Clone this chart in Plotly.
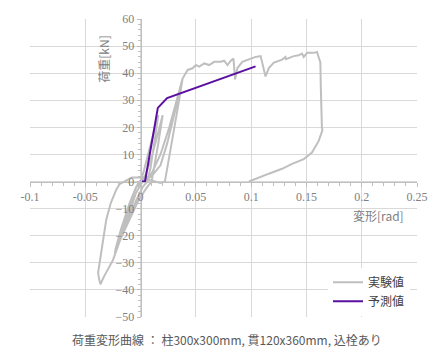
import plotly.graph_objects as go

# Experimental hysteresis (deformation [rad], load [kN])
exp_x = [0, 0.003, 0.008, 0.013, 0.016, 0.013, 0.009, 0.006, 0.002, -0.004, -0.010, -0.017, -0.0234,
         -0.020, -0.013, -0.006, -0.002, 0.004, 0.010, 0.015, 0.020, 0.016, 0.012, 0.010, 0.006,
         -0.002, -0.010, -0.018, -0.023, -0.018, -0.010, -0.004, 0.002, 0.010, 0.018, 0.026, 0.032,
         0.037, 0.038, 0.034, 0.029, 0.025, 0.022, 0.018, 0.010, 0.0, -0.008, -0.015, -0.019, -0.022,
         -0.027, -0.031, -0.035, -0.0384, -0.0375, -0.0363, -0.033, -0.028, -0.025, -0.018, -0.010,
         -0.004, 0.002, 0.010, 0.018, 0.024, 0.030, 0.035, 0.038, 0.0426, 0.047, 0.050, 0.053,
         0.0576, 0.062, 0.0666, 0.0726, 0.0756, 0.0786, 0.0816, 0.084, 0.0855, 0.0876, 0.092, 0.098,
         0.104, 0.1086, 0.110, 0.113, 0.116, 0.1206, 0.128, 0.131, 0.1315, 0.1386, 0.143, 0.146,
         0.1476, 0.1506, 0.1566, 0.1596, 0.161, 0.1626, 0.163, 0.1635, 0.164, 0.1645, 0.161, 0.155,
         0.1476, 0.137, 0.128, 0.116, 0.098]
exp_y = [0, 4, 12, 20, 24.5, 16, 5, 0, -2, -7, -13, -20, -26.5,
         -22, -13, -4, -0.5, 2, 9, 17, 24.5, 14, 4, 0, -2,
         -7, -14, -21, -25.5, -18, -8, -2, 0, 3, 10, 20, 29,
         37, 38, 28, 16, 6, 0, -0.5, 0.5, 1.5, 1.5, 0, -1, -3,
         -8, -14, -24, -33.7, -36, -37.9, -35, -31, -29, -21, -11,
         -4, 0, 2, 6, 14, 24, 33, 38, 41.2, 41.8, 43, 42.4,
         43.6, 43, 44.2, 44.2, 44.6, 43, 44.6, 45.4, 37.7, 41.9, 44.2, 45,
         46, 46.3, 44.2, 38.8, 41.9, 43.9, 45, 46, 45.2, 46.3, 46.6, 47.2,
         46, 47.5, 47.5, 47.8, 46, 44, 35, 25, 20, 19, 14.9, 10.7,
         8.3, 6.5, 4.7, 2.9, 0]

# Predicted curve
pred_x = [0, 0.004, 0.0156, 0.024, 0.104]
pred_y = [0, 0, 27.2, 30.8, 42.5]

x_ticks = [-0.1, -0.05, 0, 0.05, 0.1, 0.15, 0.2, 0.25]
x_tick_text = ["-0.1", "-0.05", "0", "0.05", "0.1", "0.15", "0.2", "0.25"]
y_ticks = [-50, -40, -30, -20, -10, 0, 10, 20, 30, 40, 50, 60]

x_range = [-0.1, 0.25]
y_range = [-50, 60]

serif = "Liberation Serif"
cjk = "Noto Sans CJK JP"
tick_col = "#808080"

fig = go.Figure()
fig.add_trace(go.Scatter(x=exp_x, y=exp_y, mode="lines", name="実験値",
                         line=dict(color="#bfbfbf", width=2)))
fig.add_trace(go.Scatter(x=pred_x, y=pred_y, mode="lines", name="予測値",
                         line=dict(color="#5a0fa0", width=2)))

fig.update_layout(
    width=440, height=354,
    margin=dict(l=30, r=21, t=12, b=37),
    paper_bgcolor="white", plot_bgcolor="white",
    showlegend=True,
    legend=dict(x=0.77, y=0.165, xanchor="left", yanchor="top",
                bgcolor="white", font=dict(family=cjk, size=12, color="#404040"),
                itemwidth=30, tracegroupgap=4),
    xaxis=dict(range=x_range, tickvals=x_ticks, ticktext=x_tick_text,
               showgrid=True, gridcolor="#d9d9d9", gridwidth=1,
               zeroline=False, showline=True, linecolor="#bfbfbf", linewidth=1,
               anchor="free", position=(0 - y_range[0]) / (y_range[1] - y_range[0]),
               ticks="outside", ticklen=4, tickcolor="#bfbfbf",
               minor=dict(dtick=0.01, ticks="outside", ticklen=3, tickcolor="#bfbfbf", showgrid=False),
               tickfont=dict(family=serif, size=12, color=tick_col)),
    yaxis=dict(range=y_range, tickvals=y_ticks,
               showgrid=True, gridcolor="#d9d9d9", gridwidth=1,
               zeroline=False, showline=True, linecolor="#bfbfbf", linewidth=1,
               anchor="free", position=(0 - x_range[0]) / (x_range[1] - x_range[0]),
               ticks="outside", ticklen=4, tickcolor="#bfbfbf",
               minor=dict(dtick=2, ticks="outside", ticklen=3, tickcolor="#bfbfbf", showgrid=False),
               tickfont=dict(family=serif, size=12, color=tick_col)),
)

fig.add_annotation(x=-0.033, y=45, xref="x", yref="y", text="荷重[kN]", textangle=-90,
                   showarrow=False, font=dict(family=cjk, size=12, color=tick_col))
fig.add_annotation(x=0.215, y=-12.7, xref="x", yref="y", text="変形[rad]",
                   showarrow=False, font=dict(family=cjk, size=12, color=tick_col))
fig.add_annotation(x=0.51, y=-0.075, xref="paper", yref="paper", yanchor="middle",
                   text="荷重変形曲線 ： 柱300x300mm, 貫120x360mm, 込栓あり",
                   showarrow=False, font=dict(family=cjk, size=12, color="#595959"))

fig.write_html("out.html")
